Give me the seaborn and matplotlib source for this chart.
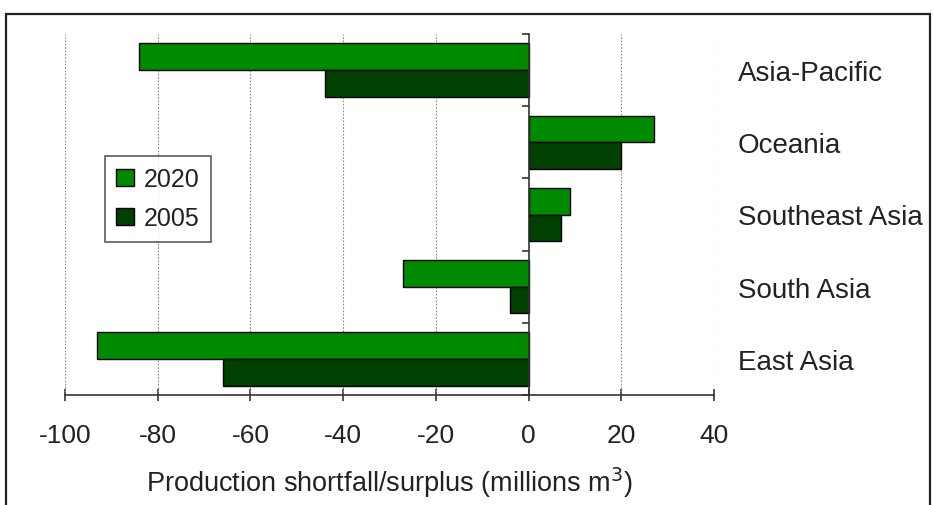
import matplotlib
matplotlib.use("Agg")
import matplotlib.pyplot as plt
from matplotlib.patches import Rectangle
import seaborn as sns
import pandas as pd

regions = ["Asia-Pacific", "Oceania", "Southeast Asia", "South Asia", "East Asia"]
values_2020 = [-84, 27, 9, -27, -93]
values_2005 = [-44, 20, 7, -4, -66]
years = ["2020", "2005"]
x_ticks = [-100, -80, -60, -40, -20, 0, 20, 40]

df = pd.DataFrame({
    "region": regions * 2,
    "value": values_2020 + values_2005,
    "year": [years[0]] * len(regions) + [years[1]] * len(regions),
})

sns.set_theme(style="white")
plt.rcParams["font.family"] = ["Liberation Sans", "DejaVu Sans"]

fig = plt.figure(figsize=(9.33, 5.06), dpi=100)
ax = fig.add_axes([65 / 933, 1 - 396 / 506, (714 - 65) / 933, (396 - 35) / 506])

sns.barplot(data=df, y="region", x="value", hue="year", order=regions,
            hue_order=years, orient="h", width=0.74, saturation=1,
            palette={"2020": "#008a00", "2005": "#004000"},
            edgecolor="black", linewidth=1.0, ax=ax, legend=True, zorder=3)

ax.set_xlim(-100, 40)
ax.set_ylim(len(regions) - 0.5, -0.5)
ax.set_xticks(x_ticks)
ax.set_xticklabels([str(t) for t in x_ticks])

# gridlines
for t in x_ticks:
    if t != 0:
        ax.axvline(t, color="#888888", lw=0.8, ls=(0, (1.5, 1.5)), zorder=1)

# spines
ax.spines["top"].set_visible(False)
ax.spines["right"].set_visible(False)
ax.spines["left"].set_position(("data", 0))
ax.spines["left"].set_color("#333333")
ax.spines["left"].set_linewidth(1.2)
ax.spines["left"].set_zorder(4)
ax.spines["bottom"].set_color("#333333")
ax.spines["bottom"].set_linewidth(1.2)

# y ticks: labels on right, boundary minor ticks on zero line
ax.set_yticks(range(len(regions)))
ax.set_yticklabels(regions)
ax.set_yticks([i - 0.5 for i in range(len(regions) + 1)], minor=True)
ax.tick_params(axis="y", which="major", left=False, right=False,
               labelleft=False, labelright=True, length=0, pad=17,
               labelsize=20, labelcolor="#222222")
ax.tick_params(axis="y", which="minor", left=True, right=False,
               length=5, width=1.2, color="#333333", direction="out")
ax.tick_params(axis="x", which="major", bottom=True, length=8, width=1.2,
               color="#333333", direction="inout", pad=16, labelsize=19,
               labelcolor="#222222")

ax.set_ylabel("")
ax.set_xlabel("Production shortfall/surplus (millions m$^{3}$)", fontsize=19.5,
              color="#222222", labelpad=13)

leg = ax.legend(loc="upper left", bbox_to_anchor=(0.062, 0.662),
                borderaxespad=0, frameon=True, fancybox=False,
                edgecolor="#333333", fontsize=18, handlelength=0.7,
                handleheight=0.7, handletextpad=0.4, labelspacing=0.6,
                borderpad=0.45)
leg.get_frame().set_linewidth(1.2)
for t in leg.get_texts():
    t.set_color("#222222")

# figure frame
fig.patches.append(Rectangle((6 / 933, -0.2), (930 - 6) / 933, 1.2 - 15 / 506,
                             transform=fig.transFigure, fill=False,
                             edgecolor="#222222", lw=1.6))

fig.savefig("out.png", dpi=100)
